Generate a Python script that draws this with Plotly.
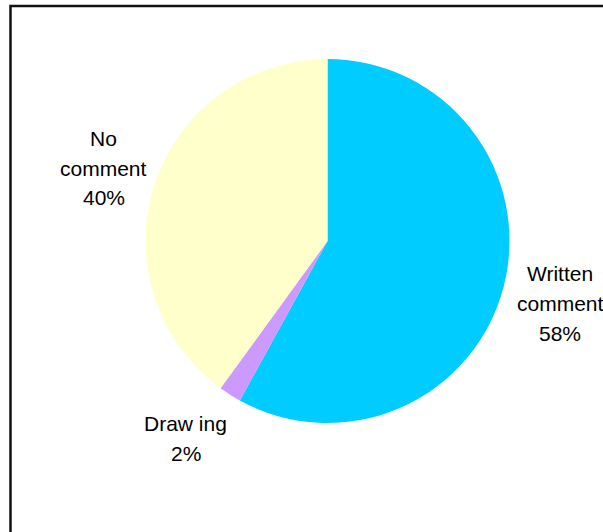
import plotly.graph_objects as go

# Survey response breakdown
categories = ["Written<br>comment", "Draw ing", "No<br>comment"]
values = [58, 2, 40]
colors = ["#00CCFF", "#CC99FF", "#FFFFCC"]

W, H = 603, 532
FONT = "Liberation Sans, Arial, sans-serif"
FS = 21
LINE_GAP = 29.6

# pie placement (pixels): centre and radius
cx, cy, r = 327.5, 241.0, 182.0

# where each label block's first baseline sits, and its horizontal centre (pixels)
label_pos = [(560.0, 281.5), (185.5, 431.5), (103.5, 146.0)]

fig = go.Figure(
    go.Pie(
        labels=[c.replace("<br>", " ") for c in categories],
        values=values,
        sort=False,
        direction="clockwise",
        rotation=0,
        marker=dict(colors=colors, line=dict(width=0)),
        textinfo="none",
        hoverinfo="label+percent",
        showlegend=False,
        domain=dict(x=[(cx - r) / W, (cx + r) / W], y=[(H - cy - r) / H, (H - cy + r) / H]),
    )
)

total = sum(values)
annotations = []
for cat, val, (px, py) in zip(categories, values, label_pos):
    lines = cat.split("<br>") + [f"{round(100 * val / total)}%"]
    for i, line in enumerate(lines):
        base = py + i * LINE_GAP
        annotations.append(
            dict(
                text=line,
                x=px / W,
                y=(H - (base - 0.36 * FS)) / H,
                xref="paper",
                yref="paper",
                xanchor="center",
                yanchor="middle",
                showarrow=False,
                font=dict(family=FONT, size=FS, color="#000000"),
            )
        )

fig.update_layout(
    width=W,
    height=H,
    margin=dict(l=0, r=0, t=0, b=0),
    paper_bgcolor="#FFFFFF",
    plot_bgcolor="#FFFFFF",
    annotations=annotations,
    shapes=[
        dict(
            type="rect",
            xref="paper",
            yref="paper",
            x0=10.5 / W,
            x1=1.05,
            y0=-0.05,
            y1=(H - 6.0) / H,
            line=dict(color="#111111", width=2.5),
            fillcolor="rgba(0,0,0,0)",
            layer="above",
        )
    ],
)

fig.write_html("out.html")
